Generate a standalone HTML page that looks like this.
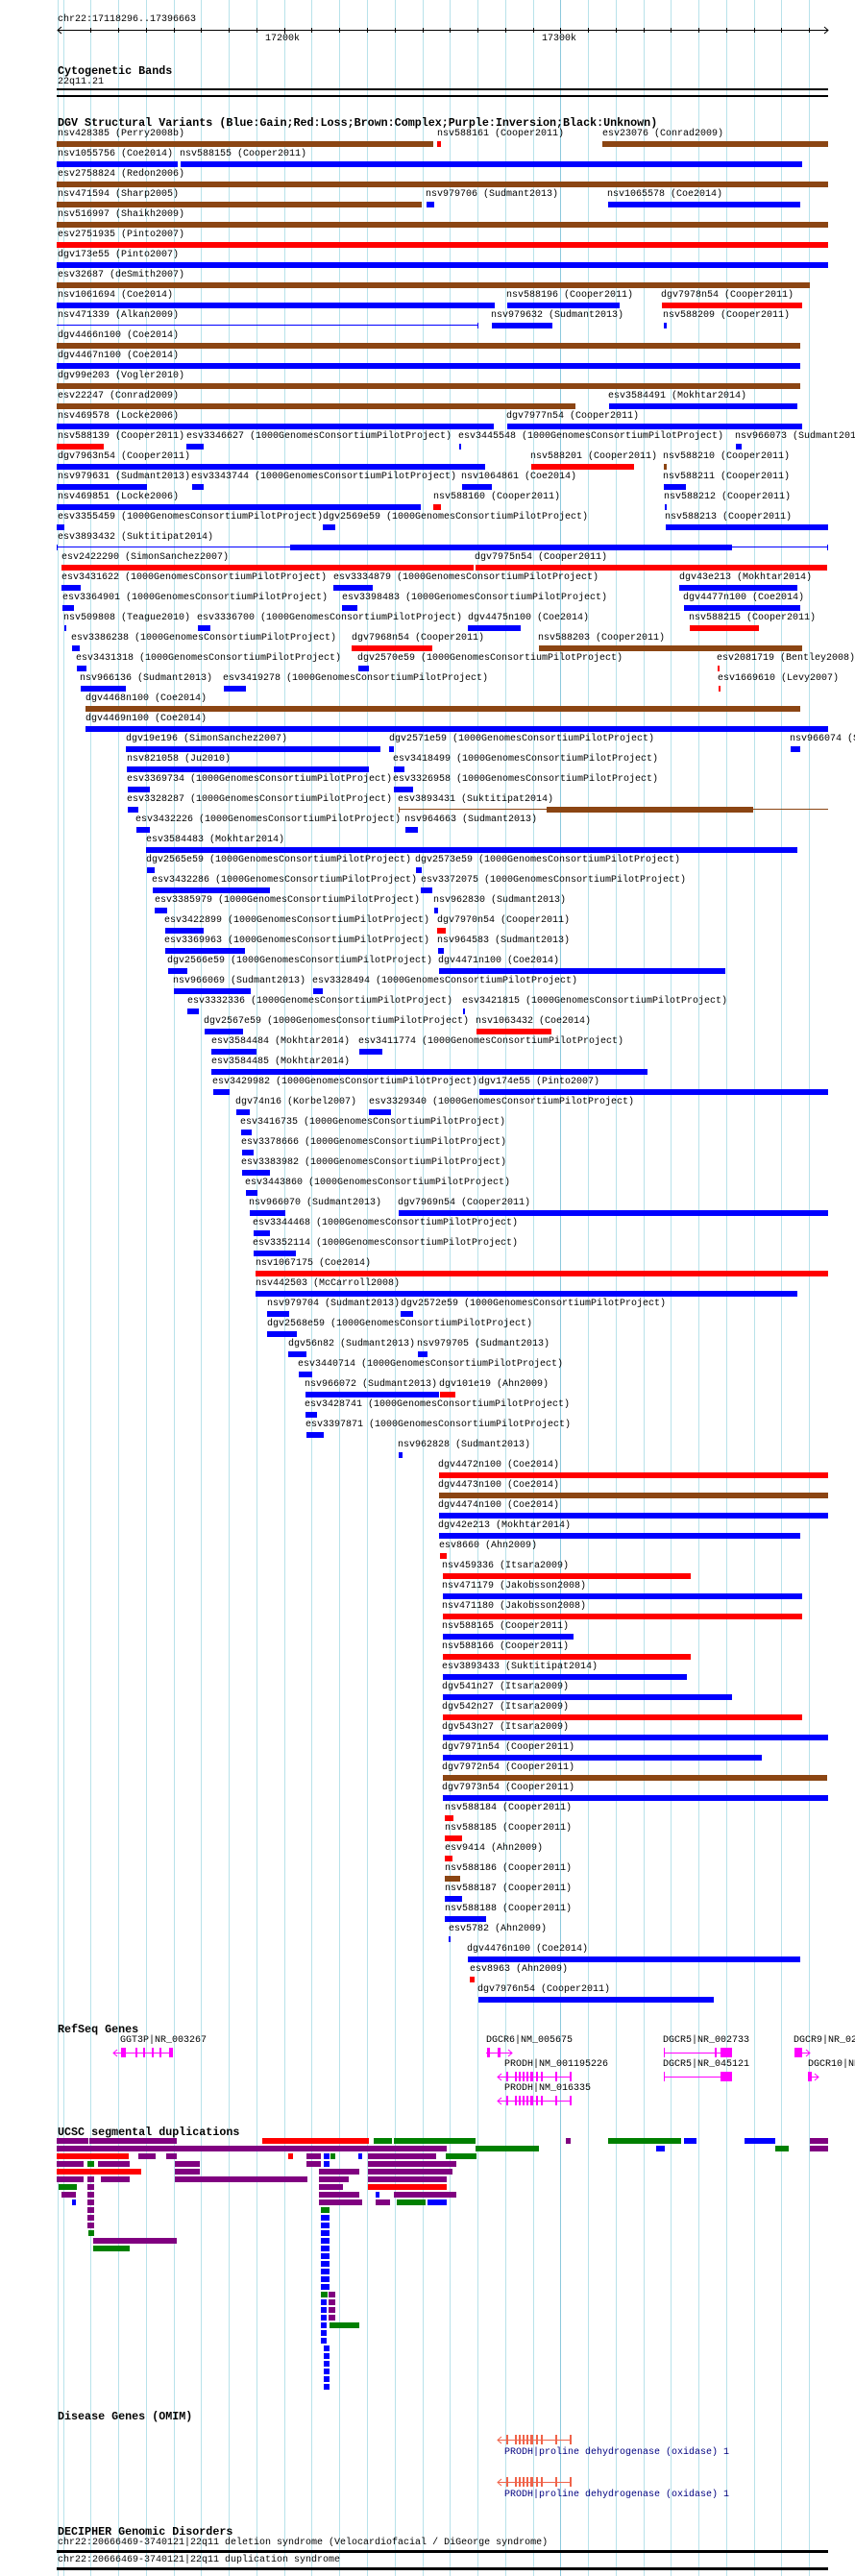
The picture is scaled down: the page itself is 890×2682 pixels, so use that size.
<!DOCTYPE html>
<html><head><meta charset="utf-8"><style>
body{margin:0;background:#fff;}
#w{position:relative;width:890px;height:2682px;overflow:hidden;background:#fff;font-family:"Liberation Mono",monospace;}
.g{position:absolute;top:0;width:1px;height:2682px;background:#b8e2ea;}
.t{position:absolute;font:bold 11.7px/14px "Liberation Mono",monospace;white-space:nowrap;color:#000;}
.l{position:absolute;font:10px/10px "Liberation Mono",monospace;white-space:nowrap;color:#000;}
.r{position:absolute;left:0;width:890px;height:20px;}
.r i{position:absolute;top:0;font:normal 10px/10px "Liberation Mono",monospace;white-space:nowrap;color:#000;}
.r b{position:absolute;top:12px;height:6px;}
.u{background:#0000ff}.d{background:#ff0000}.w{background:#8b4513}.p{background:#800080}.n{background:#008000}
.s{position:absolute;height:6px;}
</style></head><body><div id="w">
<div class="g" style="left:60px"></div><div class="g" style="left:66px"></div><div class="g" style="left:94px"></div><div class="g" style="left:123px"></div><div class="g" style="left:152px"></div><div class="g" style="left:181px"></div><div class="g" style="left:209px"></div><div class="g" style="left:238px"></div><div class="g" style="left:267px"></div><div class="g" style="left:296px"></div><div class="g" style="left:324px"></div><div class="g" style="left:353px"></div><div class="g" style="left:382px"></div><div class="g" style="left:411px"></div><div class="g" style="left:440px"></div><div class="g" style="left:468px"></div><div class="g" style="left:497px"></div><div class="g" style="left:526px"></div><div class="g" style="left:555px"></div><div class="g" style="left:583px;background:#8cc8dc"></div><div class="g" style="left:612px"></div><div class="g" style="left:641px"></div><div class="g" style="left:670px"></div><div class="g" style="left:698px"></div><div class="g" style="left:727px"></div><div class="g" style="left:756px"></div><div class="g" style="left:785px"></div><div class="g" style="left:813px"></div><div class="g" style="left:842px"></div>

<div class="l" style="left:60px;top:16px">chr22:17118296..17396663</div>
<svg style="position:absolute;left:0;top:0" width="890" height="50">
<line x1="60" y1="31.5" x2="862" y2="31.5" stroke="#000" stroke-width="1"/>
<path d="M64 28 L60 31.5 L64 35 M858 28 L862 31.5 L858 35" stroke="#000" fill="none"/>
<g stroke="#000">
<line x1="94.5" y1="29" x2="94.5" y2="34"/><line x1="123.5" y1="29" x2="123.5" y2="34"/><line x1="152.5" y1="29" x2="152.5" y2="34"/><line x1="181.5" y1="29" x2="181.5" y2="34"/><line x1="209.5" y1="29" x2="209.5" y2="34"/><line x1="238.5" y1="29" x2="238.5" y2="34"/><line x1="267.5" y1="29" x2="267.5" y2="34"/><line x1="296.5" y1="29" x2="296.5" y2="35"/><line x1="324.5" y1="29" x2="324.5" y2="34"/><line x1="353.5" y1="29" x2="353.5" y2="34"/><line x1="382.5" y1="29" x2="382.5" y2="34"/><line x1="411.5" y1="29" x2="411.5" y2="34"/><line x1="440.5" y1="29" x2="440.5" y2="34"/><line x1="468.5" y1="29" x2="468.5" y2="34"/><line x1="497.5" y1="29" x2="497.5" y2="34"/><line x1="526.5" y1="29" x2="526.5" y2="34"/><line x1="555.5" y1="29" x2="555.5" y2="34"/><line x1="583.5" y1="29" x2="583.5" y2="35"/><line x1="612.5" y1="29" x2="612.5" y2="34"/><line x1="641.5" y1="29" x2="641.5" y2="34"/><line x1="670.5" y1="29" x2="670.5" y2="34"/><line x1="698.5" y1="29" x2="698.5" y2="34"/><line x1="727.5" y1="29" x2="727.5" y2="34"/><line x1="756.5" y1="29" x2="756.5" y2="34"/><line x1="785.5" y1="29" x2="785.5" y2="34"/><line x1="813.5" y1="29" x2="813.5" y2="34"/><line x1="842.5" y1="29" x2="842.5" y2="34"/>
</g></svg>
<div class="l" style="left:276px;top:36px">17200k</div>
<div class="l" style="left:564px;top:36px">17300k</div>

<div class="t" style="left:60px;top:67px">Cytogenetic Bands</div>
<div class="l" style="left:60px;top:81px">22q11.21</div>
<div style="position:absolute;left:59px;top:92px;width:803px;height:2px;background:#000"></div>
<div style="position:absolute;left:59px;top:99px;width:803px;height:2px;background:#000"></div>

<div class="t" style="left:60px;top:121px">DGV Structural Variants (Blue:Gain;Red:Loss;Brown:Complex;Purple:Inversion;Black:Unknown)</div>

<div class="r" style="top:135px"><i style="left:60px">nsv428385 (Perry2008b)</i><b class="w" style="left:59px;width:392px"></b><i style="left:455px">nsv588161 (Cooper2011)</i><b class="d" style="left:455px;width:4px"></b><i style="left:627px">esv23076 (Conrad2009)</i><b class="w" style="left:627px;width:235px"></b></div>
<div class="r" style="top:156px"><i style="left:60px">nsv1055756 (Coe2014)</i><b class="u" style="left:59px;width:126px"></b><i style="left:187px">nsv588155 (Cooper2011)</i><b class="u" style="left:188px;width:647px"></b></div>
<div class="r" style="top:177px"><i style="left:60px">esv2758824 (Redon2006)</i><b class="w" style="left:59px;width:803px"></b></div>
<div class="r" style="top:198px"><i style="left:60px">nsv471594 (Sharp2005)</i><b class="w" style="left:59px;width:380px"></b><i style="left:443px">nsv979706 (Sudmant2013)</i><b class="u" style="left:444px;width:8px"></b><i style="left:632px">nsv1065578 (Coe2014)</i><b class="u" style="left:633px;width:200px"></b></div>
<div class="r" style="top:219px"><i style="left:60px">nsv516997 (Shaikh2009)</i><b class="w" style="left:59px;width:803px"></b></div>
<div class="r" style="top:240px"><i style="left:60px">esv2751935 (Pinto2007)</i><b class="d" style="left:59px;width:803px"></b></div>
<div class="r" style="top:261px"><i style="left:60px">dgv173e55 (Pinto2007)</i><b class="u" style="left:59px;width:803px"></b></div>
<div class="r" style="top:282px"><i style="left:60px">esv32687 (deSmith2007)</i><b class="w" style="left:59px;width:784px"></b></div>
<div class="r" style="top:303px"><i style="left:60px">nsv1061694 (Coe2014)</i><b class="u" style="left:59px;width:456px"></b><i style="left:527px">nsv588196 (Cooper2011)</i><b class="u" style="left:528px;width:117px"></b><i style="left:688px">dgv7978n54 (Cooper2011)</i><b class="d" style="left:689px;width:146px"></b></div>
<div class="r" style="top:324px"><i style="left:60px">nsv471339 (Alkan2009)</i><b class="u" style="left:59px;width:439px;top:14px;height:1px"></b><b class="u" style="left:497px;width:1px"></b><i style="left:511px">nsv979632 (Sudmant2013)</i><b class="u" style="left:512px;width:63px"></b><i style="left:690px">nsv588209 (Cooper2011)</i><b class="u" style="left:691px;width:3px"></b></div>
<div class="r" style="top:345px"><i style="left:60px">dgv4466n100 (Coe2014)</i><b class="w" style="left:59px;width:774px"></b></div>
<div class="r" style="top:366px"><i style="left:60px">dgv4467n100 (Coe2014)</i><b class="u" style="left:59px;width:774px"></b></div>
<div class="r" style="top:387px"><i style="left:60px">dgv99e203 (Vogler2010)</i><b class="w" style="left:59px;width:774px"></b></div>
<div class="r" style="top:408px"><i style="left:60px">esv22247 (Conrad2009)</i><b class="w" style="left:59px;width:540px"></b><i style="left:633px">esv3584491 (Mokhtar2014)</i><b class="u" style="left:634px;width:196px"></b></div>
<div class="r" style="top:429px"><i style="left:60px">nsv469578 (Locke2006)</i><b class="u" style="left:59px;width:455px"></b><i style="left:527px">dgv7977n54 (Cooper2011)</i><b class="u" style="left:528px;width:307px"></b></div>
<div class="r" style="top:450px"><i style="left:60px">nsv588139 (Cooper2011)</i><b class="d" style="left:59px;width:49px"></b><i style="left:194px">esv3346627 (1000GenomesConsortiumPilotProject)</i><b class="u" style="left:194px;width:18px"></b><i style="left:477px">esv3445548 (1000GenomesConsortiumPilotProject)</i><b class="u" style="left:478px;width:2px"></b><i style="left:765px">nsv966073 (Sudmant2013)</i><b class="u" style="left:766px;width:6px"></b></div>
<div class="r" style="top:471px"><i style="left:60px">dgv7963n54 (Cooper2011)</i><b class="u" style="left:59px;width:446px"></b><i style="left:552px">nsv588201 (Cooper2011)</i><b class="d" style="left:553px;width:107px"></b><i style="left:690px">nsv588210 (Cooper2011)</i><b class="w" style="left:691px;width:3px"></b></div>
<div class="r" style="top:492px"><i style="left:60px">nsv979631 (Sudmant2013)</i><b class="u" style="left:59px;width:94px"></b><i style="left:199px">esv3343744 (1000GenomesConsortiumPilotProject)</i><b class="u" style="left:200px;width:12px"></b><i style="left:480px">nsv1064861 (Coe2014)</i><b class="u" style="left:481px;width:31px"></b><i style="left:690px">nsv588211 (Cooper2011)</i><b class="u" style="left:691px;width:23px"></b></div>
<div class="r" style="top:513px"><i style="left:60px">nsv469851 (Locke2006)</i><b class="u" style="left:59px;width:379px"></b><i style="left:451px">nsv588160 (Cooper2011)</i><b class="d" style="left:451px;width:8px"></b><i style="left:691px">nsv588212 (Cooper2011)</i><b class="u" style="left:692px;width:2px"></b></div>
<div class="r" style="top:534px"><i style="left:60px">esv3355459 (1000GenomesConsortiumPilotProject)</i><b class="u" style="left:59px;width:8px"></b><i style="left:336px">dgv2569e59 (1000GenomesConsortiumPilotProject)</i><b class="u" style="left:336px;width:13px"></b><i style="left:692px">nsv588213 (Cooper2011)</i><b class="u" style="left:693px;width:169px"></b></div>
<div class="r" style="top:555px"><i style="left:60px">esv3893432 (Suktitipat2014)</i><b class="u" style="left:59px;width:803px;top:14px;height:1px"></b><b class="u" style="left:59px;width:1px"></b><b class="u" style="left:861px;width:1px"></b><b class="u" style="left:302px;width:460px"></b></div>
<div class="r" style="top:576px"><i style="left:64px">esv2422290 (SimonSanchez2007)</i><b class="d" style="left:64px;width:429px"></b><i style="left:494px">dgv7975n54 (Cooper2011)</i><b class="d" style="left:495px;width:366px"></b></div>
<div class="r" style="top:597px"><i style="left:64px">esv3431622 (1000GenomesConsortiumPilotProject)</i><b class="u" style="left:64px;width:20px"></b><i style="left:347px">esv3334879 (1000GenomesConsortiumPilotProject)</i><b class="u" style="left:347px;width:41px"></b><i style="left:707px">dgv43e213 (Mokhtar2014)</i><b class="u" style="left:707px;width:123px"></b></div>
<div class="r" style="top:618px"><i style="left:65px">esv3364901 (1000GenomesConsortiumPilotProject)</i><b class="u" style="left:65px;width:12px"></b><i style="left:356px">esv3398483 (1000GenomesConsortiumPilotProject)</i><b class="u" style="left:356px;width:16px"></b><i style="left:711px">dgv4477n100 (Coe2014)</i><b class="u" style="left:712px;width:121px"></b></div>
<div class="r" style="top:639px"><i style="left:66px">nsv509808 (Teague2010)</i><b class="u" style="left:67px;width:2px"></b><i style="left:205px">esv3336700 (1000GenomesConsortiumPilotProject)</i><b class="u" style="left:206px;width:13px"></b><i style="left:487px">dgv4475n100 (Coe2014)</i><b class="u" style="left:487px;width:55px"></b><i style="left:717px">nsv588215 (Cooper2011)</i><b class="d" style="left:718px;width:72px"></b></div>
<div class="r" style="top:660px"><i style="left:74px">esv3386238 (1000GenomesConsortiumPilotProject)</i><b class="u" style="left:75px;width:8px"></b><i style="left:366px">dgv7968n54 (Cooper2011)</i><b class="d" style="left:366px;width:84px"></b><i style="left:560px">nsv588203 (Cooper2011)</i><b class="w" style="left:561px;width:274px"></b></div>
<div class="r" style="top:681px"><i style="left:79px">esv3431318 (1000GenomesConsortiumPilotProject)</i><b class="u" style="left:80px;width:10px"></b><i style="left:372px">dgv2570e59 (1000GenomesConsortiumPilotProject)</i><b class="u" style="left:373px;width:11px"></b><i style="left:746px">esv2081719 (Bentley2008)</i><b class="d" style="left:747px;width:2px"></b></div>
<div class="r" style="top:702px"><i style="left:83px">nsv966136 (Sudmant2013)</i><b class="u" style="left:84px;width:47px"></b><i style="left:232px">esv3419278 (1000GenomesConsortiumPilotProject)</i><b class="u" style="left:233px;width:23px"></b><i style="left:747px">esv1669610 (Levy2007)</i><b class="d" style="left:748px;width:2px"></b></div>
<div class="r" style="top:723px"><i style="left:89px">dgv4468n100 (Coe2014)</i><b class="w" style="left:89px;width:744px"></b></div>
<div class="r" style="top:744px"><i style="left:89px">dgv4469n100 (Coe2014)</i><b class="u" style="left:89px;width:773px"></b></div>
<div class="r" style="top:765px"><i style="left:131px">dgv19e196 (SimonSanchez2007)</i><b class="u" style="left:131px;width:265px"></b><i style="left:405px">dgv2571e59 (1000GenomesConsortiumPilotProject)</i><b class="u" style="left:405px;width:5px"></b><i style="left:822px">nsv966074 (Sudmant2013)</i><b class="u" style="left:823px;width:10px"></b></div>
<div class="r" style="top:786px"><i style="left:132px">nsv821058 (Ju2010)</i><b class="u" style="left:132px;width:252px"></b><i style="left:409px">esv3418499 (1000GenomesConsortiumPilotProject)</i><b class="u" style="left:410px;width:11px"></b></div>
<div class="r" style="top:807px"><i style="left:132px">esv3369734 (1000GenomesConsortiumPilotProject)</i><b class="u" style="left:133px;width:23px"></b><i style="left:409px">esv3326958 (1000GenomesConsortiumPilotProject)</i><b class="u" style="left:410px;width:20px"></b></div>
<div class="r" style="top:828px"><i style="left:132px">esv3328287 (1000GenomesConsortiumPilotProject)</i><b class="u" style="left:133px;width:11px"></b><i style="left:414px">esv3893431 (Suktitipat2014)</i><b class="w" style="left:415px;width:447px;top:14px;height:1px"></b><b class="w" style="left:415px;width:1px"></b><b class="w" style="left:569px;width:215px"></b></div>
<div class="r" style="top:849px"><i style="left:141px">esv3432226 (1000GenomesConsortiumPilotProject)</i><b class="u" style="left:142px;width:14px"></b><i style="left:421px">nsv964663 (Sudmant2013)</i><b class="u" style="left:422px;width:13px"></b></div>
<div class="r" style="top:870px"><i style="left:152px">esv3584483 (Mokhtar2014)</i><b class="u" style="left:152px;width:678px"></b></div>
<div class="r" style="top:891px"><i style="left:152px">dgv2565e59 (1000GenomesConsortiumPilotProject)</i><b class="u" style="left:153px;width:8px"></b><i style="left:432px">dgv2573e59 (1000GenomesConsortiumPilotProject)</i><b class="u" style="left:433px;width:6px"></b></div>
<div class="r" style="top:912px"><i style="left:158px">esv3432286 (1000GenomesConsortiumPilotProject)</i><b class="u" style="left:159px;width:122px"></b><i style="left:438px">esv3372075 (1000GenomesConsortiumPilotProject)</i><b class="u" style="left:438px;width:12px"></b></div>
<div class="r" style="top:933px"><i style="left:161px">esv3385979 (1000GenomesConsortiumPilotProject)</i><b class="u" style="left:161px;width:13px"></b><i style="left:451px">nsv962830 (Sudmant2013)</i><b class="u" style="left:452px;width:4px"></b></div>
<div class="r" style="top:954px"><i style="left:171px">esv3422899 (1000GenomesConsortiumPilotProject)</i><b class="u" style="left:172px;width:40px"></b><i style="left:455px">dgv7970n54 (Cooper2011)</i><b class="d" style="left:455px;width:9px"></b></div>
<div class="r" style="top:975px"><i style="left:171px">esv3369963 (1000GenomesConsortiumPilotProject)</i><b class="u" style="left:172px;width:83px"></b><i style="left:455px">nsv964583 (Sudmant2013)</i><b class="u" style="left:456px;width:6px"></b></div>
<div class="r" style="top:996px"><i style="left:174px">dgv2566e59 (1000GenomesConsortiumPilotProject)</i><b class="u" style="left:175px;width:20px"></b><i style="left:456px">dgv4471n100 (Coe2014)</i><b class="u" style="left:457px;width:298px"></b></div>
<div class="r" style="top:1017px"><i style="left:180px">nsv966069 (Sudmant2013)</i><b class="u" style="left:181px;width:80px"></b><i style="left:325px">esv3328494 (1000GenomesConsortiumPilotProject)</i><b class="u" style="left:326px;width:10px"></b></div>
<div class="r" style="top:1038px"><i style="left:195px">esv3332336 (1000GenomesConsortiumPilotProject)</i><b class="u" style="left:195px;width:12px"></b><i style="left:481px">esv3421815 (1000GenomesConsortiumPilotProject)</i><b class="u" style="left:482px;width:2px"></b></div>
<div class="r" style="top:1059px"><i style="left:212px">dgv2567e59 (1000GenomesConsortiumPilotProject)</i><b class="u" style="left:213px;width:40px"></b><i style="left:495px">nsv1063432 (Coe2014)</i><b class="d" style="left:496px;width:78px"></b></div>
<div class="r" style="top:1080px"><i style="left:220px">esv3584484 (Mokhtar2014)</i><b class="u" style="left:220px;width:47px"></b><i style="left:373px">esv3411774 (1000GenomesConsortiumPilotProject)</i><b class="u" style="left:374px;width:24px"></b></div>
<div class="r" style="top:1101px"><i style="left:220px">esv3584485 (Mokhtar2014)</i><b class="u" style="left:220px;width:454px"></b></div>
<div class="r" style="top:1122px"><i style="left:221px">esv3429982 (1000GenomesConsortiumPilotProject)</i><b class="u" style="left:222px;width:17px"></b><i style="left:498px">dgv174e55 (Pinto2007)</i><b class="u" style="left:499px;width:363px"></b></div>
<div class="r" style="top:1143px"><i style="left:245px">dgv74n16 (Korbel2007)</i><b class="u" style="left:246px;width:14px"></b><i style="left:384px">esv3329340 (1000GenomesConsortiumPilotProject)</i><b class="u" style="left:384px;width:23px"></b></div>
<div class="r" style="top:1164px"><i style="left:250px">esv3416735 (1000GenomesConsortiumPilotProject)</i><b class="u" style="left:251px;width:11px"></b></div>
<div class="r" style="top:1185px"><i style="left:251px">esv3378666 (1000GenomesConsortiumPilotProject)</i><b class="u" style="left:252px;width:12px"></b></div>
<div class="r" style="top:1206px"><i style="left:251px">esv3383982 (1000GenomesConsortiumPilotProject)</i><b class="u" style="left:252px;width:29px"></b></div>
<div class="r" style="top:1227px"><i style="left:255px">esv3443860 (1000GenomesConsortiumPilotProject)</i><b class="u" style="left:256px;width:12px"></b></div>
<div class="r" style="top:1248px"><i style="left:259px">nsv966070 (Sudmant2013)</i><b class="u" style="left:260px;width:37px"></b><i style="left:414px">dgv7969n54 (Cooper2011)</i><b class="u" style="left:415px;width:447px"></b></div>
<div class="r" style="top:1269px"><i style="left:263px">esv3344468 (1000GenomesConsortiumPilotProject)</i><b class="u" style="left:264px;width:17px"></b></div>
<div class="r" style="top:1290px"><i style="left:263px">esv3352114 (1000GenomesConsortiumPilotProject)</i><b class="u" style="left:264px;width:44px"></b></div>
<div class="r" style="top:1311px"><i style="left:266px">nsv1067175 (Coe2014)</i><b class="d" style="left:266px;width:596px"></b></div>
<div class="r" style="top:1332px"><i style="left:266px">nsv442503 (McCarroll2008)</i><b class="u" style="left:266px;width:564px"></b></div>
<div class="r" style="top:1353px"><i style="left:278px">nsv979704 (Sudmant2013)</i><b class="u" style="left:278px;width:23px"></b><i style="left:417px">dgv2572e59 (1000GenomesConsortiumPilotProject)</i><b class="u" style="left:417px;width:13px"></b></div>
<div class="r" style="top:1374px"><i style="left:278px">dgv2568e59 (1000GenomesConsortiumPilotProject)</i><b class="u" style="left:278px;width:31px"></b></div>
<div class="r" style="top:1395px"><i style="left:300px">dgv56n82 (Sudmant2013)</i><b class="u" style="left:300px;width:19px"></b><i style="left:434px">nsv979705 (Sudmant2013)</i><b class="u" style="left:435px;width:10px"></b></div>
<div class="r" style="top:1416px"><i style="left:310px">esv3440714 (1000GenomesConsortiumPilotProject)</i><b class="u" style="left:311px;width:14px"></b></div>
<div class="r" style="top:1437px"><i style="left:317px">nsv966072 (Sudmant2013)</i><b class="u" style="left:318px;width:139px"></b><i style="left:457px">dgv101e19 (Ahn2009)</i><b class="d" style="left:458px;width:16px"></b></div>
<div class="r" style="top:1458px"><i style="left:317px">esv3428741 (1000GenomesConsortiumPilotProject)</i><b class="u" style="left:318px;width:12px"></b></div>
<div class="r" style="top:1479px"><i style="left:318px">esv3397871 (1000GenomesConsortiumPilotProject)</i><b class="u" style="left:319px;width:18px"></b></div>
<div class="r" style="top:1500px"><i style="left:414px">nsv962828 (Sudmant2013)</i><b class="u" style="left:415px;width:4px"></b></div>
<div class="r" style="top:1521px"><i style="left:456px">dgv4472n100 (Coe2014)</i><b class="d" style="left:457px;width:405px"></b></div>
<div class="r" style="top:1542px"><i style="left:456px">dgv4473n100 (Coe2014)</i><b class="w" style="left:457px;width:405px"></b></div>
<div class="r" style="top:1563px"><i style="left:456px">dgv4474n100 (Coe2014)</i><b class="u" style="left:457px;width:405px"></b></div>
<div class="r" style="top:1584px"><i style="left:456px">dgv42e213 (Mokhtar2014)</i><b class="u" style="left:457px;width:376px"></b></div>
<div class="r" style="top:1605px"><i style="left:457px">esv8660 (Ahn2009)</i><b class="d" style="left:458px;width:7px"></b></div>
<div class="r" style="top:1626px"><i style="left:460px">nsv459336 (Itsara2009)</i><b class="d" style="left:461px;width:258px"></b></div>
<div class="r" style="top:1647px"><i style="left:460px">nsv471179 (Jakobsson2008)</i><b class="u" style="left:461px;width:374px"></b></div>
<div class="r" style="top:1668px"><i style="left:460px">nsv471180 (Jakobsson2008)</i><b class="d" style="left:461px;width:374px"></b></div>
<div class="r" style="top:1689px"><i style="left:460px">nsv588165 (Cooper2011)</i><b class="u" style="left:461px;width:136px"></b></div>
<div class="r" style="top:1710px"><i style="left:460px">nsv588166 (Cooper2011)</i><b class="d" style="left:461px;width:258px"></b></div>
<div class="r" style="top:1731px"><i style="left:460px">esv3893433 (Suktitipat2014)</i><b class="u" style="left:461px;width:254px"></b></div>
<div class="r" style="top:1752px"><i style="left:460px">dgv541n27 (Itsara2009)</i><b class="u" style="left:461px;width:301px"></b></div>
<div class="r" style="top:1773px"><i style="left:460px">dgv542n27 (Itsara2009)</i><b class="d" style="left:461px;width:374px"></b></div>
<div class="r" style="top:1794px"><i style="left:460px">dgv543n27 (Itsara2009)</i><b class="u" style="left:461px;width:401px"></b></div>
<div class="r" style="top:1815px"><i style="left:460px">dgv7971n54 (Cooper2011)</i><b class="u" style="left:461px;width:332px"></b></div>
<div class="r" style="top:1836px"><i style="left:460px">dgv7972n54 (Cooper2011)</i><b class="w" style="left:461px;width:400px"></b></div>
<div class="r" style="top:1857px"><i style="left:460px">dgv7973n54 (Cooper2011)</i><b class="u" style="left:461px;width:401px"></b></div>
<div class="r" style="top:1878px"><i style="left:463px">nsv588184 (Cooper2011)</i><b class="d" style="left:463px;width:9px"></b></div>
<div class="r" style="top:1899px"><i style="left:463px">nsv588185 (Cooper2011)</i><b class="d" style="left:463px;width:18px"></b></div>
<div class="r" style="top:1920px"><i style="left:463px">esv9414 (Ahn2009)</i><b class="d" style="left:463px;width:8px"></b></div>
<div class="r" style="top:1941px"><i style="left:463px">nsv588186 (Cooper2011)</i><b class="w" style="left:463px;width:16px"></b></div>
<div class="r" style="top:1962px"><i style="left:463px">nsv588187 (Cooper2011)</i><b class="u" style="left:463px;width:18px"></b></div>
<div class="r" style="top:1983px"><i style="left:463px">nsv588188 (Cooper2011)</i><b class="u" style="left:463px;width:43px"></b></div>
<div class="r" style="top:2004px"><i style="left:467px">esv5782 (Ahn2009)</i><b class="u" style="left:467px;width:2px"></b></div>
<div class="r" style="top:2025px"><i style="left:486px">dgv4476n100 (Coe2014)</i><b class="u" style="left:487px;width:346px"></b></div>
<div class="r" style="top:2046px"><i style="left:489px">esv8963 (Ahn2009)</i><b class="d" style="left:489px;width:5px"></b></div>
<div class="r" style="top:2067px"><i style="left:497px">dgv7976n54 (Cooper2011)</i><b class="u" style="left:498px;width:245px"></b></div>

<div class="t" style="left:60px;top:2106px">RefSeq Genes</div>
<div class="l" style="left:125px;top:2120px">GGT3P|NR_003267</div>
<div class="l" style="left:506px;top:2120px">DGCR6|NM_005675</div>
<div class="l" style="left:690px;top:2120px">DGCR5|NR_002733</div>
<div class="l" style="left:826px;top:2120px">DGCR9|NR_024</div>
<div class="l" style="left:525px;top:2145px">PRODH|NM_001195226</div>
<div class="l" style="left:690px;top:2145px">DGCR5|NR_045121</div>
<div class="l" style="left:841px;top:2145px">DGCR10|NR_</div>
<div class="l" style="left:525px;top:2170px">PRODH|NM_016335</div>
<svg style="position:absolute;left:0;top:0" width="890" height="2682">
<g fill="#ff00ff" stroke="#ff00ff">
<line x1="118" y1="2137.5" x2="180" y2="2137.5"/><path d="M122 2134 L118 2137.5 L122 2141" fill="none"/>
<rect x="126" y="2132" width="5" height="10" stroke="none"/><rect x="141" y="2132" width="2" height="10" stroke="none"/><rect x="149" y="2132" width="2" height="10" stroke="none"/><rect x="158" y="2132" width="2" height="10" stroke="none"/><rect x="166" y="2132" width="2" height="10" stroke="none"/><rect x="176" y="2132" width="4" height="10" stroke="none"/>
<line x1="506" y1="2137.5" x2="533" y2="2137.5"/><path d="M529 2134 L533 2137.5 L529 2141" fill="none"/>
<rect x="507" y="2132" width="3" height="10" stroke="none"/><rect x="518" y="2132" width="3" height="10" stroke="none"/>
<line x1="691" y1="2137.5" x2="762" y2="2137.5"/><rect x="691" y="2132" width="1" height="10" stroke="none"/><rect x="744" y="2132" width="2" height="10" stroke="none"/><rect x="750" y="2132" width="12" height="10" stroke="none"/>
<line x1="827" y1="2137.5" x2="843" y2="2137.5"/><rect x="827" y="2132" width="8" height="10" stroke="none"/><path d="M839 2134 L843 2137.5 L839 2141" fill="none"/>
<line x1="518" y1="2162.5" x2="595" y2="2162.5"/><path d="M522 2159 L518 2162.5 L522 2166" fill="none"/>
<rect x="527" y="2157" width="2" height="10" stroke="none"/><rect x="536" y="2157" width="2" height="10" stroke="none"/><rect x="540" y="2157" width="2" height="10" stroke="none"/><rect x="544" y="2157" width="2" height="10" stroke="none"/><rect x="548" y="2157" width="2" height="10" stroke="none"/><rect x="552" y="2157" width="3" height="10" stroke="none"/><rect x="558" y="2157" width="2" height="10" stroke="none"/><rect x="563" y="2157" width="2" height="10" stroke="none"/><rect x="578" y="2157" width="2" height="10" stroke="none"/><rect x="593" y="2157" width="2" height="10" stroke="none"/>
<line x1="691" y1="2162.5" x2="762" y2="2162.5"/><rect x="691" y="2157" width="1" height="10" stroke="none"/><rect x="750" y="2157" width="12" height="10" stroke="none"/>
<line x1="841" y1="2162.5" x2="852" y2="2162.5"/><rect x="841" y="2157" width="4" height="10" stroke="none"/><path d="M848 2159 L852 2162.5 L848 2166" fill="none"/>
<line x1="518" y1="2187.5" x2="595" y2="2187.5"/><path d="M522 2184 L518 2187.5 L522 2191" fill="none"/>
<rect x="527" y="2182" width="2" height="10" stroke="none"/><rect x="536" y="2182" width="2" height="10" stroke="none"/><rect x="540" y="2182" width="2" height="10" stroke="none"/><rect x="544" y="2182" width="2" height="10" stroke="none"/><rect x="548" y="2182" width="2" height="10" stroke="none"/><rect x="552" y="2182" width="3" height="10" stroke="none"/><rect x="558" y="2182" width="2" height="10" stroke="none"/><rect x="563" y="2182" width="2" height="10" stroke="none"/><rect x="578" y="2182" width="2" height="10" stroke="none"/><rect x="593" y="2182" width="2" height="10" stroke="none"/>
</g>
<g fill="#f0644a" stroke="#f0644a">
<line x1="518" y1="2540.5" x2="595" y2="2540.5"/><path d="M522 2537 L518 2540.5 L522 2544" fill="none"/>
<rect x="527" y="2535" width="2" height="10" stroke="none"/><rect x="536" y="2535" width="2" height="10" stroke="none"/><rect x="540" y="2535" width="2" height="10" stroke="none"/><rect x="544" y="2535" width="2" height="10" stroke="none"/><rect x="548" y="2535" width="2" height="10" stroke="none"/><rect x="552" y="2535" width="3" height="10" stroke="none"/><rect x="558" y="2535" width="2" height="10" stroke="none"/><rect x="563" y="2535" width="2" height="10" stroke="none"/><rect x="578" y="2535" width="2" height="10" stroke="none"/><rect x="593" y="2535" width="2" height="10" stroke="none"/>
<line x1="518" y1="2584.5" x2="595" y2="2584.5"/><path d="M522 2581 L518 2584.5 L522 2588" fill="none"/>
<rect x="527" y="2579" width="2" height="10" stroke="none"/><rect x="536" y="2579" width="2" height="10" stroke="none"/><rect x="540" y="2579" width="2" height="10" stroke="none"/><rect x="544" y="2579" width="2" height="10" stroke="none"/><rect x="548" y="2579" width="2" height="10" stroke="none"/><rect x="552" y="2579" width="3" height="10" stroke="none"/><rect x="558" y="2579" width="2" height="10" stroke="none"/><rect x="563" y="2579" width="2" height="10" stroke="none"/><rect x="578" y="2579" width="2" height="10" stroke="none"/><rect x="593" y="2579" width="2" height="10" stroke="none"/>
</g>
</svg>

<div class="t" style="left:60px;top:2213px">UCSC segmental duplications</div>
<b class="s p" style="left:59px;top:2226px;width:33px"></b><b class="s p" style="left:93px;top:2226px;width:91px"></b><b class="s d" style="left:273px;top:2226px;width:111px"></b><b class="s n" style="left:389px;top:2226px;width:19px"></b><b class="s n" style="left:410px;top:2226px;width:85px"></b><b class="s p" style="left:589px;top:2226px;width:5px"></b><b class="s n" style="left:633px;top:2226px;width:76px"></b><b class="s u" style="left:712px;top:2226px;width:13px"></b><b class="s u" style="left:775px;top:2226px;width:32px"></b><b class="s p" style="left:843px;top:2226px;width:19px"></b>
<b class="s p" style="left:59px;top:2234px;width:406px"></b><b class="s n" style="left:495px;top:2234px;width:66px"></b><b class="s u" style="left:683px;top:2234px;width:9px"></b><b class="s n" style="left:807px;top:2234px;width:14px"></b><b class="s p" style="left:843px;top:2234px;width:19px"></b>
<b class="s d" style="left:59px;top:2242px;width:75px"></b><b class="s p" style="left:144px;top:2242px;width:18px"></b><b class="s p" style="left:173px;top:2242px;width:11px"></b><b class="s d" style="left:300px;top:2242px;width:5px"></b><b class="s p" style="left:319px;top:2242px;width:15px"></b><b class="s u" style="left:337px;top:2242px;width:6px"></b><b class="s n" style="left:344px;top:2242px;width:5px"></b><b class="s u" style="left:373px;top:2242px;width:4px"></b><b class="s p" style="left:383px;top:2242px;width:71px"></b><b class="s n" style="left:464px;top:2242px;width:32px"></b>
<b class="s p" style="left:59px;top:2250px;width:28px"></b><b class="s n" style="left:91px;top:2250px;width:7px"></b><b class="s p" style="left:102px;top:2250px;width:33px"></b><b class="s p" style="left:182px;top:2250px;width:26px"></b><b class="s p" style="left:319px;top:2250px;width:15px"></b><b class="s u" style="left:337px;top:2250px;width:6px"></b><b class="s p" style="left:383px;top:2250px;width:92px"></b>
<b class="s d" style="left:59px;top:2258px;width:88px"></b><b class="s p" style="left:182px;top:2258px;width:26px"></b><b class="s p" style="left:332px;top:2258px;width:42px"></b><b class="s p" style="left:383px;top:2258px;width:88px"></b>
<b class="s p" style="left:59px;top:2266px;width:28px"></b><b class="s p" style="left:91px;top:2266px;width:7px"></b><b class="s p" style="left:105px;top:2266px;width:30px"></b><b class="s p" style="left:182px;top:2266px;width:138px"></b><b class="s p" style="left:332px;top:2266px;width:31px"></b><b class="s p" style="left:383px;top:2266px;width:82px"></b>
<b class="s n" style="left:61px;top:2274px;width:19px"></b><b class="s p" style="left:91px;top:2274px;width:7px"></b><b class="s p" style="left:332px;top:2274px;width:25px"></b><b class="s d" style="left:383px;top:2274px;width:82px"></b>
<b class="s p" style="left:64px;top:2282px;width:15px"></b><b class="s p" style="left:91px;top:2282px;width:7px"></b><b class="s p" style="left:332px;top:2282px;width:42px"></b><b class="s u" style="left:391px;top:2282px;width:4px"></b><b class="s p" style="left:410px;top:2282px;width:65px"></b>
<b class="s u" style="left:75px;top:2290px;width:4px"></b><b class="s p" style="left:91px;top:2290px;width:7px"></b><b class="s p" style="left:332px;top:2290px;width:45px"></b><b class="s p" style="left:391px;top:2290px;width:15px"></b><b class="s n" style="left:413px;top:2290px;width:30px"></b><b class="s u" style="left:445px;top:2290px;width:20px"></b>
<b class="s p" style="left:91px;top:2298px;width:7px"></b><b class="s n" style="left:334px;top:2298px;width:9px"></b>
<b class="s p" style="left:91px;top:2306px;width:7px"></b><b class="s u" style="left:334px;top:2306px;width:9px"></b>
<b class="s p" style="left:91px;top:2314px;width:7px"></b><b class="s u" style="left:334px;top:2314px;width:9px"></b>
<b class="s n" style="left:92px;top:2322px;width:6px"></b><b class="s u" style="left:334px;top:2322px;width:9px"></b>
<b class="s p" style="left:97px;top:2330px;width:87px"></b><b class="s u" style="left:334px;top:2330px;width:9px"></b>
<b class="s n" style="left:97px;top:2338px;width:38px"></b><b class="s u" style="left:334px;top:2338px;width:9px"></b>
<b class="s u" style="left:334px;top:2346px;width:9px"></b>
<b class="s u" style="left:334px;top:2354px;width:9px"></b>
<b class="s u" style="left:334px;top:2362px;width:9px"></b>
<b class="s u" style="left:334px;top:2370px;width:9px"></b>
<b class="s u" style="left:334px;top:2378px;width:9px"></b>
<b class="s n" style="left:334px;top:2386px;width:7px"></b><b class="s p" style="left:342px;top:2386px;width:7px"></b>
<b class="s u" style="left:334px;top:2394px;width:6px"></b><b class="s p" style="left:342px;top:2394px;width:7px"></b>
<b class="s u" style="left:334px;top:2402px;width:6px"></b><b class="s p" style="left:342px;top:2402px;width:7px"></b>
<b class="s u" style="left:334px;top:2410px;width:6px"></b><b class="s p" style="left:342px;top:2410px;width:7px"></b>
<b class="s u" style="left:334px;top:2418px;width:6px"></b><b class="s n" style="left:343px;top:2418px;width:31px"></b>
<b class="s u" style="left:334px;top:2426px;width:6px"></b>
<b class="s u" style="left:334px;top:2434px;width:6px"></b>
<b class="s u" style="left:337px;top:2442px;width:6px"></b>
<b class="s u" style="left:337px;top:2450px;width:6px"></b>
<b class="s u" style="left:337px;top:2458px;width:6px"></b>
<b class="s u" style="left:337px;top:2466px;width:6px"></b>
<b class="s u" style="left:337px;top:2474px;width:6px"></b>
<b class="s u" style="left:337px;top:2482px;width:6px"></b>

<div class="t" style="left:60px;top:2509px">Disease Genes (OMIM)</div>
<div class="l" style="left:525px;top:2549px;color:#000080">PRODH|proline dehydrogenase (oxidase) 1</div>
<div class="l" style="left:525px;top:2593px;color:#000080">PRODH|proline dehydrogenase (oxidase) 1</div>

<div class="t" style="left:60px;top:2629px">DECIPHER Genomic Disorders</div>
<div class="l" style="left:60px;top:2643px">chr22:20666469-3740121|22q11 deletion syndrome (Velocardiofacial / DiGeorge syndrome)</div>
<div style="position:absolute;left:59px;top:2655px;width:803px;height:3px;background:#000"></div>
<div class="l" style="left:60px;top:2661px">chr22:20666469-3740121|22q11 duplication syndrome</div>
<div style="position:absolute;left:59px;top:2673px;width:803px;height:3px;background:#000"></div>
</div></body></html>
